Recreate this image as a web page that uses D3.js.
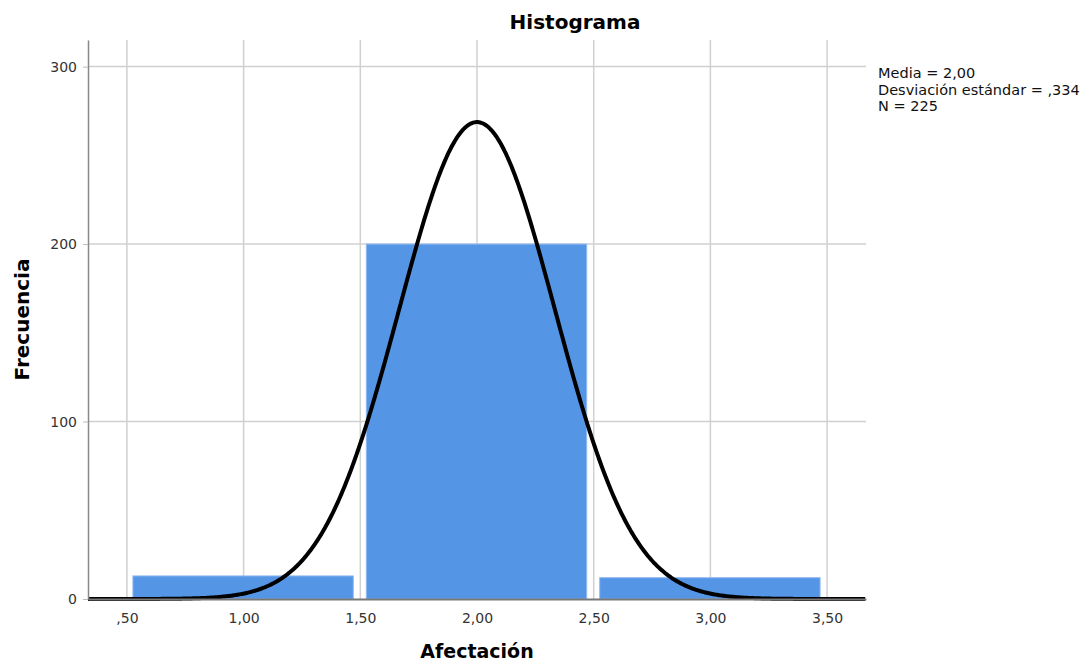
<!DOCTYPE html>
<html>
<head>
<meta charset="utf-8">
<script src="https://cdn.jsdelivr.net/npm/d3@7"></script>
<style>
  body { margin: 0; background: #fff; }
  text { font-family: "DejaVu Sans", sans-serif; }
</style>
</head>
<body>
<div id="chart"></div>
<script>
// bins (lower, upper) and counts
const binStarts = [0.5, 1.5, 2.5];
const binEnds = [1.5, 2.5, 3.5];
const counts = [13, 200, 12];
const xTicks = [0.5, 1.0, 1.5, 2.0, 2.5, 3.0, 3.5];
const yTicks = [0, 100, 200, 300];
const stats = ["Media = 2,00", "Desviación estándar = ,334", "N = 225"];
const mean = 2.00, sd = 0.334, n = 225, binWidth = 1;

const width = 1086, height = 664;
const margin = { left: 88, right: 220, top: 40, bottom: 65 };

const svg = d3.select("#chart").append("svg")
    .attr("width", width)
    .attr("height", height);

const x = d3.scaleLinear()
    .domain([0.3333, 3.6667])
    .range([margin.left, width - margin.right]);

const y = d3.scaleLinear()
    .domain([0, 315])
    .range([height - margin.bottom, margin.top]);

const fmt = v => d3.format(".2f")(v).replace(".", ",").replace(/^0/, "");

// grid
svg.append("g").selectAll("line.vg")
    .data(xTicks).enter().append("line")
    .attr("x1", d => x(d)).attr("x2", d => x(d))
    .attr("y1", y.range()[1]).attr("y2", y(0))
    .attr("stroke", "#d0d0d0").attr("stroke-width", 1.5);

svg.append("g").selectAll("line.hg")
    .data(yTicks.filter(d => d > 0)).enter().append("line")
    .attr("x1", x.range()[0]).attr("x2", x.range()[1])
    .attr("y1", d => y(d)).attr("y2", d => y(d))
    .attr("stroke", "#d0d0d0").attr("stroke-width", 1.5);

// bars
const bins = counts.map((c, i) => ({ x0: binStarts[i], x1: binEnds[i], c }));
svg.append("g").selectAll("rect")
    .data(bins).enter().append("rect")
    .attr("x", d => x(d.x0) + 6)
    .attr("width", d => x(d.x1) - x(d.x0) - 13)
    .attr("y", d => y(d.c))
    .attr("height", d => y(0) - y(d.c))
    .attr("fill", "#5595e5")
    .attr("stroke", "#8fbaf0")
    .attr("stroke-width", 1);

// normal curve from mean / sd / N
const curvePts = d3.range(x.domain()[0], x.domain()[1] + 0.001, 0.005).map(v => [v,
    n * binWidth / (sd * Math.sqrt(2 * Math.PI)) * Math.exp(-0.5 * Math.pow((v - mean) / sd, 2))]);
svg.append("path")
    .datum(curvePts)
    .attr("d", d3.line().x(d => x(d[0])).y(d => y(d[1])))
    .attr("fill", "none")
    .attr("stroke", "#000")
    .attr("stroke-width", 4);

// axes
const yAxis = svg.append("g")
    .attr("transform", `translate(${margin.left},0)`)
    .call(d3.axisLeft(y).tickValues(yTicks).tickSizeInner(5).tickSizeOuter(0).tickPadding(6));
yAxis.select(".domain").attr("stroke", "#888").attr("stroke-width", 1.5);
yAxis.selectAll(".tick line").attr("stroke", "#bbb");
yAxis.selectAll("text").attr("font-size", 14).attr("fill", "#333")
    .style("font-family", "DejaVu Sans, sans-serif");

const xAxis = svg.append("g")
    .attr("transform", `translate(0,${y(0)})`)
    .call(d3.axisBottom(x).tickValues(xTicks).tickFormat(fmt).tickSize(0).tickPadding(14));
xAxis.select(".domain").attr("stroke", "#777").attr("stroke-width", 2);
xAxis.selectAll("text").attr("font-size", 14).attr("fill", "#333")
    .style("font-family", "DejaVu Sans, sans-serif");

// titles
svg.append("text")
    .attr("x", 575).attr("y", 29)
    .attr("text-anchor", "middle")
    .attr("font-size", 20).attr("font-weight", "bold")
    .text("Histograma");

svg.append("text")
    .attr("x", x(2)).attr("y", 658)
    .attr("text-anchor", "middle")
    .attr("font-size", 19).attr("font-weight", "bold")
    .text("Afectación");

svg.append("text")
    .attr("transform", `translate(29,${(y.range()[1] + y(0)) / 2 + 0}) rotate(-90)`)
    .attr("text-anchor", "middle")
    .attr("font-size", 20).attr("font-weight", "bold")
    .text("Frecuencia");

// stats box
svg.append("g").selectAll("text")
    .data(stats).enter().append("text")
    .attr("x", 878)
    .attr("y", (d, i) => 78 + i * 16.5)
    .attr("font-size", 14.5).attr("fill", "#111")
    .text(d => d);
</script>
</body>
</html>
